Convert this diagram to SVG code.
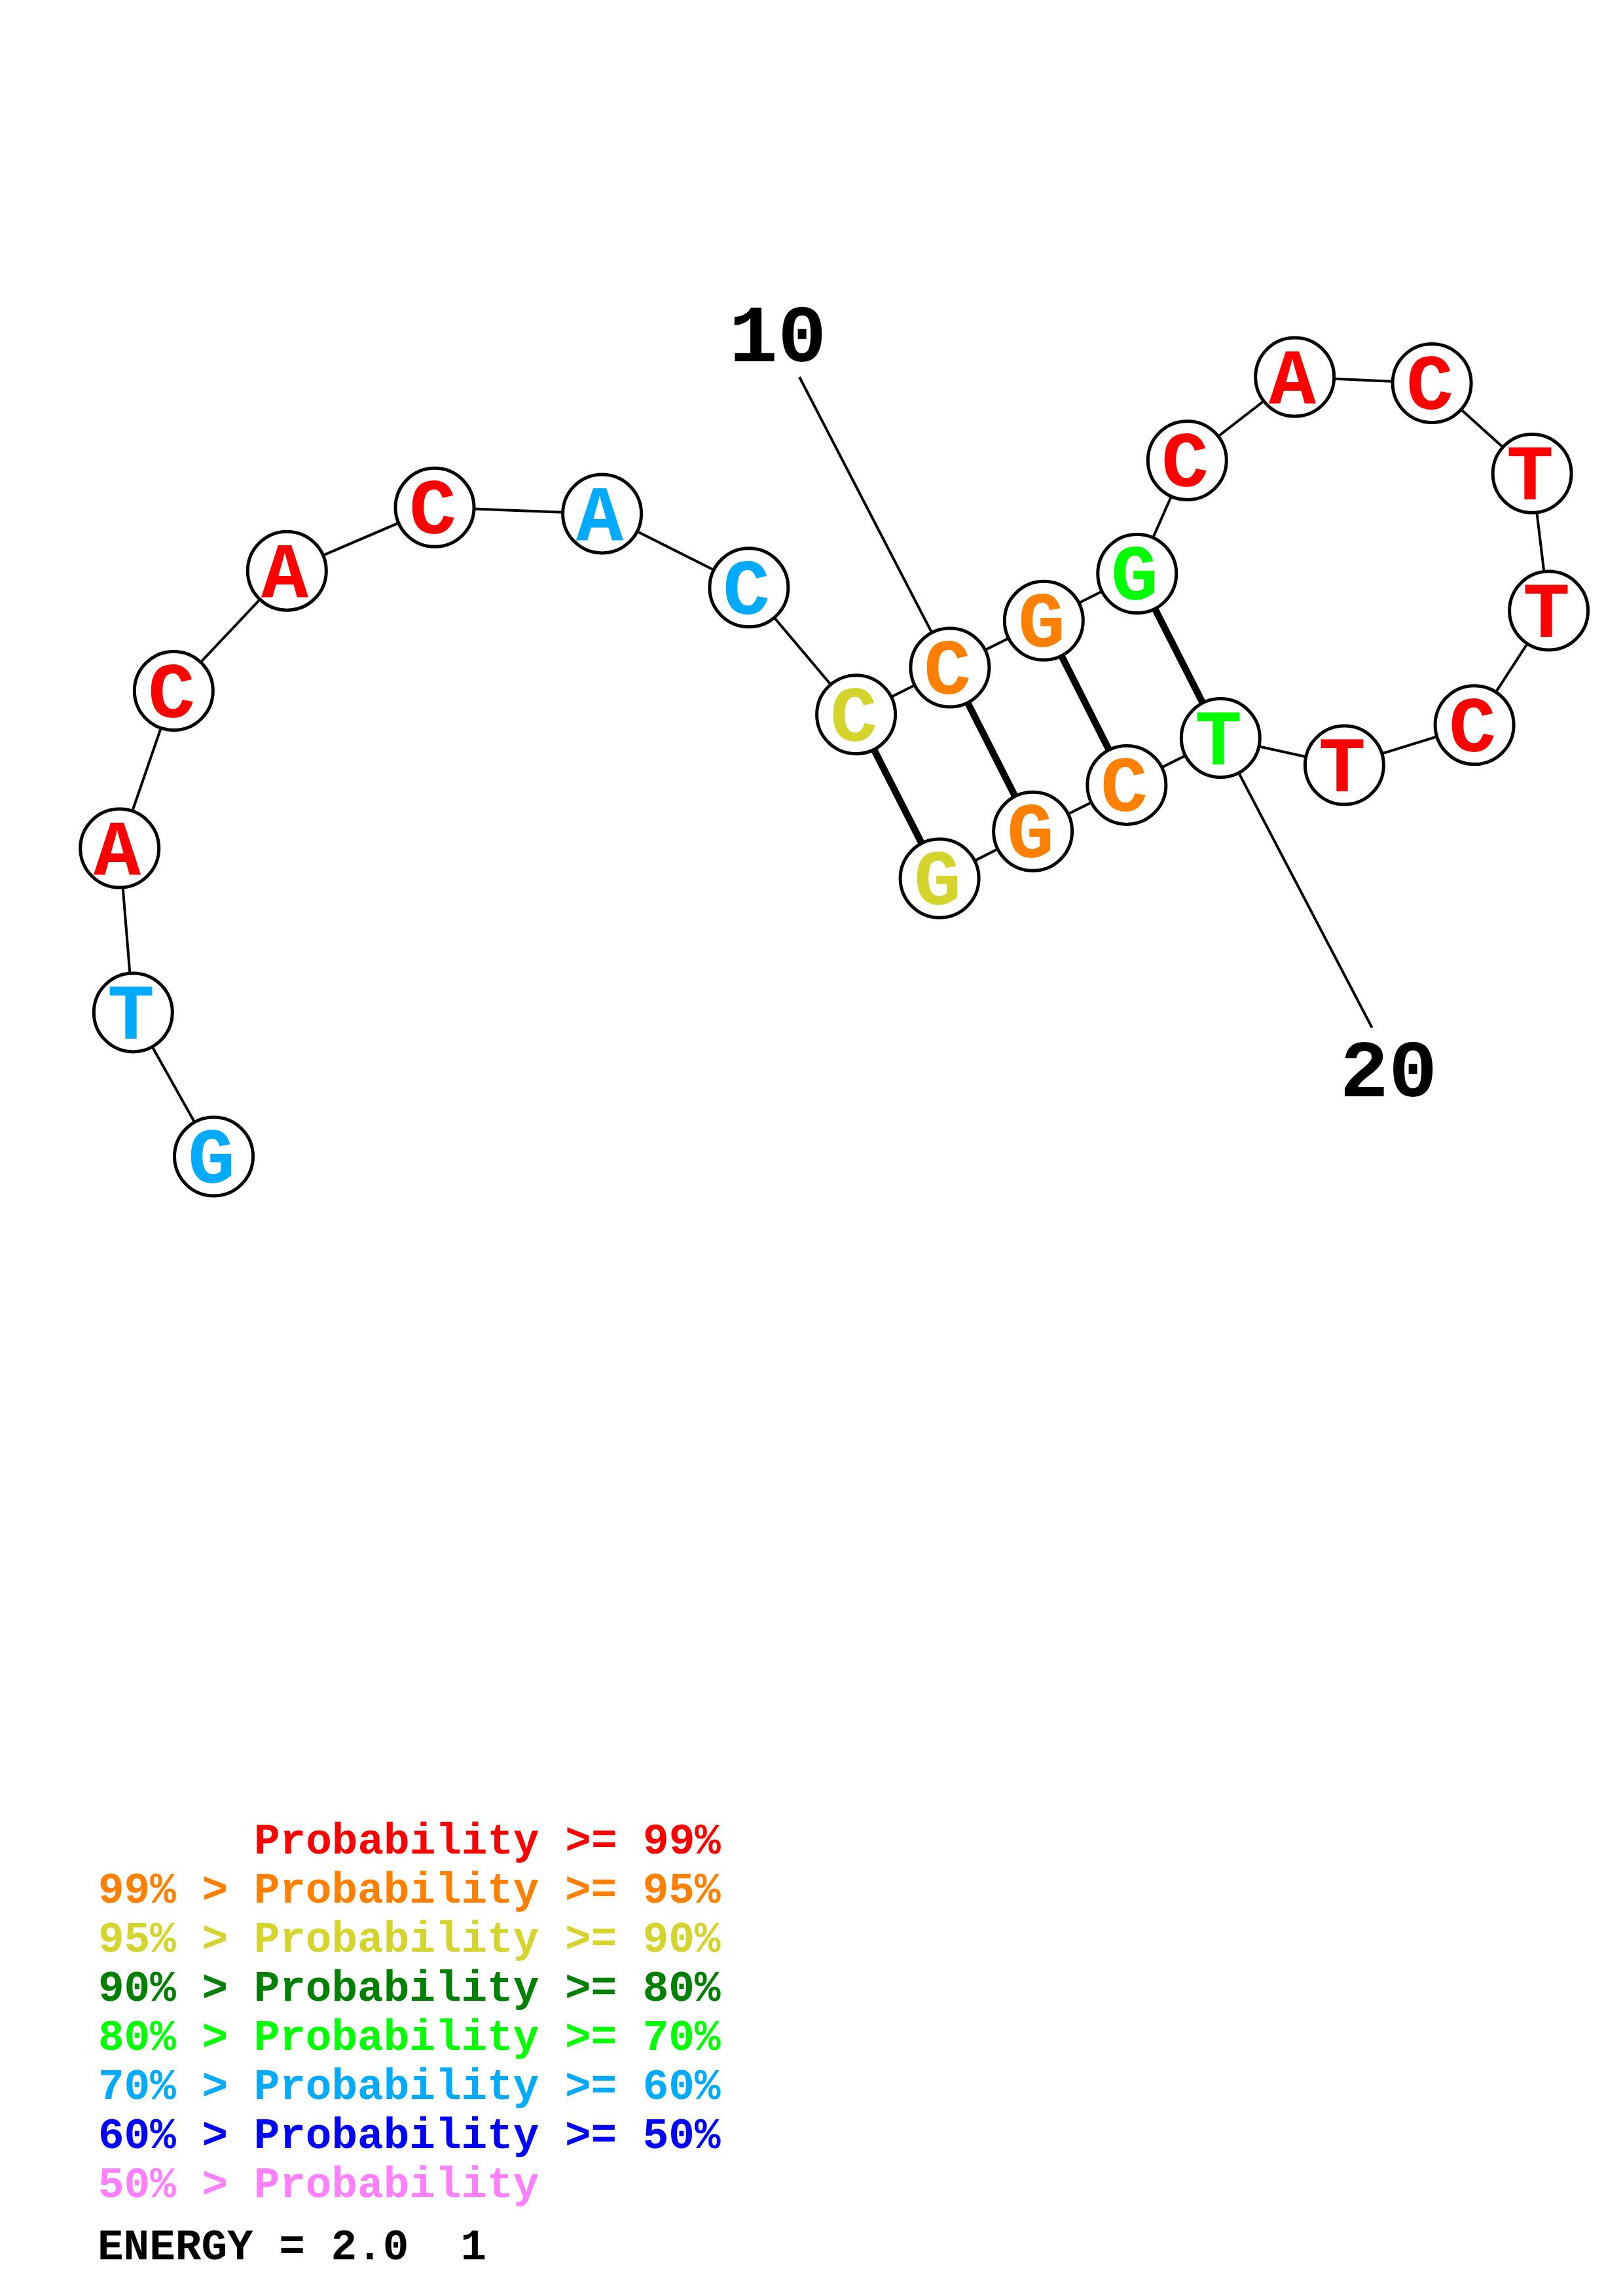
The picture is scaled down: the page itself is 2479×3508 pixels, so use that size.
<svg xmlns="http://www.w3.org/2000/svg" width="2479" height="3508" viewBox="0 0 2479 3508">
<style>
.bb{stroke:#000;stroke-width:4;fill:none}
.bp{stroke:#000;stroke-width:10.5;fill:none}
.lbl{stroke:#000;stroke-width:4;fill:none}
circle{fill:#fff;stroke:#000;stroke-width:5}
.nt{font-family:"Liberation Mono","Courier New",monospace;font-weight:bold;font-size:120px;text-anchor:middle}
.num{font-family:"Liberation Mono","Courier New",monospace;font-weight:bold;font-size:124px;text-anchor:middle;fill:#000}
.lg{font-family:"Liberation Mono","Courier New",monospace;font-weight:bold;font-size:66px}
.r{fill:#FF0000}.o{fill:#FF8000}.y{fill:#D4D42C}.dg{fill:#008000}.g{fill:#00FF00}.lb{fill:#00AAFF}.b{fill:#0000FF}.p{fill:#FF80FF}
</style>
<rect width="2479" height="3508" fill="#fff"/>
<g id="connectors">
<polyline class="bb" points="326.5,1767 203.3,1546.9 182.7,1296.1 265.3,1055.5 438.3,872.2 664,775.3 919.6,784.9 1143.9,897.8 1307.6,1091.7 1450.9,1020 1594.3,948.3 1736.8,876.5 1813.3,703.5 1977.7,576 2187.1,585.5 2340.1,723.4 2365.6,933.1 2252.1,1107.7 2053.4,1169.1 1864.3,1127.6 1720.9,1199.4 1577.6,1270.3 1435.1,1342.1"/>
<line class="bp" x1="1307.6" y1="1091.7" x2="1435.1" y2="1342.1"/>
<line class="bp" x1="1450.9" y1="1020" x2="1577.6" y2="1270.3"/>
<line class="bp" x1="1594.3" y1="948.3" x2="1720.9" y2="1199.4"/>
<line class="bp" x1="1736.8" y1="876.5" x2="1864.3" y2="1127.6"/>
<line class="lbl" x1="1221" y1="576" x2="1450.9" y2="1020"/>
<line class="lbl" x1="1864.3" y1="1127.6" x2="2095.6" y2="1570.1"/>
</g>
<g id="n1"><circle cx="326.5" cy="1767" r="60"/><text class="nt lb" x="323" y="1807">G</text></g>
<g id="n2"><circle cx="203.3" cy="1546.9" r="60"/><text class="nt lb" x="200" y="1587">T</text></g>
<g id="n3"><circle cx="182.7" cy="1296.1" r="60"/><text class="nt r" x="179" y="1336">A</text></g>
<g id="n4"><circle cx="265.3" cy="1055.5" r="60"/><text class="nt r" x="262" y="1096">C</text></g>
<g id="n5"><circle cx="438.3" cy="872.2" r="60"/><text class="nt r" x="435" y="912">A</text></g>
<g id="n6"><circle cx="664" cy="775.3" r="60"/><text class="nt r" x="661" y="815">C</text></g>
<g id="n7"><circle cx="919.6" cy="784.9" r="60"/><text class="nt lb" x="916" y="825">A</text></g>
<g id="n8"><circle cx="1143.9" cy="897.8" r="60"/><text class="nt lb" x="1140" y="938">C</text></g>
<g id="n9"><circle cx="1307.6" cy="1091.7" r="60"/><text class="nt y" x="1304" y="1132">C</text></g>
<g id="n10"><circle cx="1450.9" cy="1020" r="60"/><text class="nt o" x="1447" y="1060">C</text></g>
<g id="n11"><circle cx="1594.3" cy="948.3" r="60"/><text class="nt o" x="1591" y="988">G</text></g>
<g id="n12"><circle cx="1736.8" cy="876.5" r="60"/><text class="nt g" x="1733" y="916">G</text></g>
<g id="n13"><circle cx="1813.3" cy="703.5" r="60"/><text class="nt r" x="1810" y="743">C</text></g>
<g id="n14"><circle cx="1977.7" cy="576" r="60"/><text class="nt r" x="1974" y="616">A</text></g>
<g id="n15"><circle cx="2187.1" cy="585.5" r="60"/><text class="nt r" x="2184" y="625">C</text></g>
<g id="n16"><circle cx="2340.1" cy="723.4" r="60"/><text class="nt r" x="2337" y="763">T</text></g>
<g id="n17"><circle cx="2365.6" cy="933.1" r="60"/><text class="nt r" x="2362" y="973">T</text></g>
<g id="n18"><circle cx="2252.1" cy="1107.7" r="60"/><text class="nt r" x="2249" y="1148">C</text></g>
<g id="n19"><circle cx="2053.4" cy="1169.1" r="60"/><text class="nt r" x="2050" y="1209">T</text></g>
<g id="n20"><circle cx="1864.3" cy="1127.6" r="60"/><text class="nt g" x="1861" y="1168">T</text></g>
<g id="n21"><circle cx="1720.9" cy="1199.4" r="60"/><text class="nt o" x="1717" y="1239">C</text></g>
<g id="n22"><circle cx="1577.6" cy="1270.3" r="60"/><text class="nt o" x="1574" y="1310">G</text></g>
<g id="n23"><circle cx="1435.1" cy="1342.1" r="60"/><text class="nt y" x="1432" y="1382">G</text></g>
<g id="labels">
<text class="num" x="1188" y="552">10</text>
<text class="num" x="2121" y="1675">20</text>
</g>
<g id="legend">
<text class="lg r" x="388" y="2832">Probability &gt;= 99%</text>
<text class="lg o" x="150" y="2907">99% &gt; Probability &gt;= 95%</text>
<text class="lg y" x="150" y="2982">95% &gt; Probability &gt;= 90%</text>
<text class="lg dg" x="150" y="3057">90% &gt; Probability &gt;= 80%</text>
<text class="lg g" x="150" y="3132">80% &gt; Probability &gt;= 70%</text>
<text class="lg lb" x="150" y="3207">70% &gt; Probability &gt;= 60%</text>
<text class="lg b" x="150" y="3282">60% &gt; Probability &gt;= 50%</text>
<text class="lg p" x="150" y="3357">50% &gt; Probability</text>
<text class="lg" x="149" y="3452" fill="#000" xml:space="preserve">ENERGY = 2.0  1</text>
</g>
</svg>
